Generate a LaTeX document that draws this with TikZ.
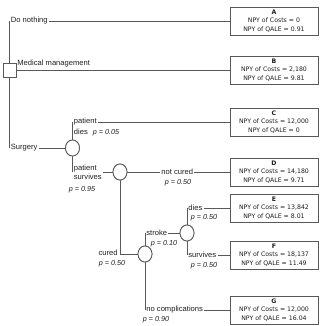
\documentclass[tikz,border=0pt]{standalone}
\usepackage{fontspec}
\setmainfont{Liberation Sans}
\newfontfamily\boxfont{DejaVu Sans}
\usetikzlibrary{shapes.geometric}
\definecolor{ln}{gray}{0.35}
\definecolor{tx}{gray}{0.12}
\tikzset{
  lbl/.style={inner sep=1.2pt, font=\fontsize{7.6}{8.6}\selectfont, text=tx},
  prob/.style={inner sep=0.5pt, font=\fontsize{7.2}{8}\selectfont\itshape, text=tx},
  outcome/.style={draw=ln, line width=0.8pt, minimum width=88pt, minimum height=28pt, align=center, inner sep=1pt,
     font=\boxfont\fontsize{6.2}{8.2}\selectfont, text=tx, fill=white},
  chance/.style={ellipse, draw=ln, line width=0.8pt, fill=white, minimum width=14pt, minimum height=16pt, inner sep=0pt},
  decision/.style={rectangle, draw=ln, line width=0.8pt, fill=white, minimum width=13pt, minimum height=14pt, inner sep=0pt},
  br/.style={draw=ln, line width=0.8pt}
}
\begin{document}
\begin{tikzpicture}[x=1pt,y=-1pt]
\useasboundingbox (0,0) rectangle (321,326);
% outcome boxes
\node[outcome] (A) at (274,21) {\textbf{A}\\NPY of Costs = 0\\NPY of QALE = 0.91};
\node[outcome] (B) at (274,70) {\textbf{B}\\NPY of Costs = 2,180\\NPY of QALE = 9.81};
\node[outcome] (C) at (274,122) {\textbf{C}\\NPY of Costs = 12,000\\NPY of QALE = 0};
\node[outcome] (D) at (274,172) {\textbf{D}\\NPY of Costs = 14,180\\NPY of QALE = 9.71};
\node[outcome] (E) at (274,208) {\textbf{E}\\NPY of Costs = 13,842\\NPY of QALE = 8.01};
\node[outcome] (F) at (274,255) {\textbf{F}\\NPY of Costs = 18,137\\NPY of QALE = 11.49};
\node[outcome] (G) at (274,310) {\textbf{G}\\NPY of Costs = 12,000\\NPY of QALE = 16.04};
% decision root
\node[lbl, anchor=west] (dn) at (9.5,21) {Do nothing};
\node[lbl, anchor=west] (sg) at (9.5,148) {Surgery};
\draw[br] (dn.west) -- (sg.west);
\draw[br] (dn.east) -- (A.west);
\node[decision] (dec) at (9.5,70) {};
\node[lbl, anchor=base west] (mm) at (16,65.5) {Medical management};
\draw[br] (dec.east) -- (B.west);
% surgery chance node
\node[chance] (c1) at (72.5,148) {};
\draw[br] (sg.east) -- (c1.west);
\node[lbl, anchor=west] (pd) at (72.5,122) {patient};
\node[lbl, anchor=north west] (pdd) at ([yshift=-0.5pt]pd.south west) {dies};
\node[prob, anchor=base west] (p05) at ([xshift=3pt]pdd.base east) {p = 0.05};
\draw[br] (c1.north) |- (pd.west);
\draw[br] (pd.east) -- (C.west);
\node[lbl, anchor=west, align=left] (ps) at (72.5,172) {patient\\survives};
\draw[br] (c1.south) |- (ps.west);
\node[prob] (p95) at (82,190) {p = 0.95};
% survives chance node
\node[chance] (c2) at (120,172) {};
\draw[br] (ps.east) -- (c2.west);
\node[lbl, anchor=west] (nc) at (160,172) {not cured};
\draw[br] (c2.east) -- (nc.west);
\draw[br] (nc.east) -- (D.west);
\node[prob] (p50a) at (178,183) {p = 0.50};
% cured chance node
\node[chance] (c3) at (145,254) {};
\draw[br] (c2.south) |- (c3.west);
\node[lbl, anchor=east] (cu) at (119,252.5) {cured};
\node[prob] (p50b) at (112,264) {p = 0.50};
\node[lbl, anchor=west] (st) at (145,233) {stroke};
\draw[br] (c3.north) |- (st.west);
\node[prob] (p10) at (164,244) {p = 0.10};
\node[lbl, anchor=west] (noc) at (145,310) {no complications};
\draw[br] (c3.south) |- (noc.west);
\draw[br] (noc.east) -- (G.west);
\node[prob] (p90) at (156,320) {p = 0.90};
% stroke chance node
\node[chance] (c4) at (187,233) {};
\draw[br] (st.east) -- (c4.west);
\node[lbl, anchor=west] (sd) at (187,208) {dies};
\draw[br] (c4.north) |- (sd.west);
\draw[br] (sd.east) -- (E.west);
\node[prob] (p50c) at (204,218) {p = 0.50};
\node[lbl, anchor=west] (ss) at (187,255) {survives};
\draw[br] (c4.south) |- (ss.west);
\draw[br] (ss.east) -- (F.west);
\node[prob] (p50d) at (204,266) {p = 0.50};
% redraw chance nodes on top
\node[chance] at (c1) {};
\node[chance] at (c2) {};
\node[chance] at (c3) {};
\node[chance] at (c4) {};
\end{tikzpicture}
\end{document}
